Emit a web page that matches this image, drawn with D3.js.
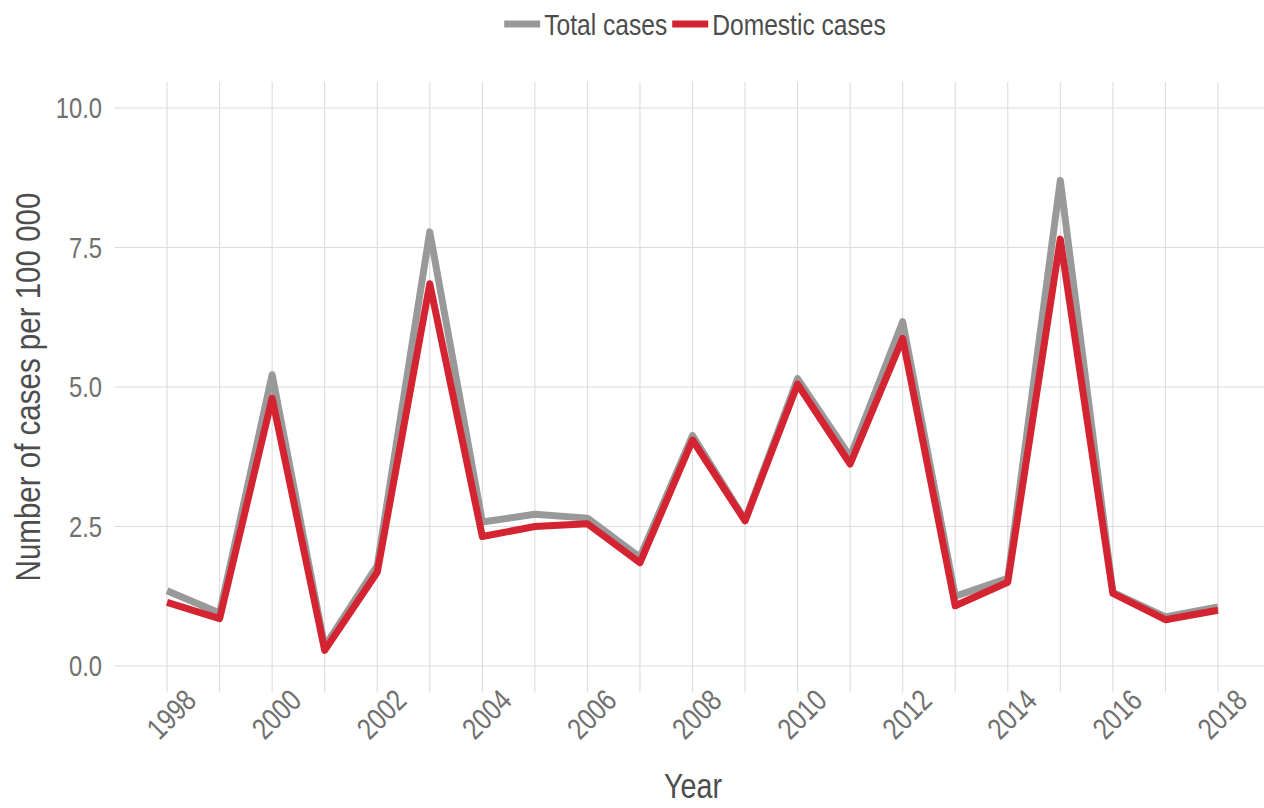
<!DOCTYPE html>
<html>
<head>
<meta charset="utf-8">
<script src="https://cdn.jsdelivr.net/npm/d3@7"></script>
<style>
  body { margin: 0; background: #fff; }
  svg text { font-family: "Liberation Sans", Arial, sans-serif; }
</style>
</head>
<body>
<div id="chart-container"></div>
<script>
// Data
const years = d3.range(1998, 2019);
const totalCases = [1.35, 0.95, 5.22, 0.35, 1.8, 7.78, 2.58, 2.72, 2.65, 1.95, 4.13, 2.62, 5.15, 3.75, 6.17, 1.25, 1.57, 8.7, 1.32, 0.88, 1.06];
const domesticCases = [1.14, 0.85, 4.8, 0.28, 1.68, 6.85, 2.32, 2.5, 2.55, 1.85, 4.05, 2.6, 5.05, 3.62, 5.87, 1.08, 1.5, 7.65, 1.3, 0.83, 1.0];
const yTicks = [0, 2.5, 5, 7.5, 10];
const xTicks = [1998, 2000, 2002, 2004, 2006, 2008, 2010, 2012, 2014, 2016, 2018];

const series = [
  { name: "Total cases", color: "#999999", values: totalCases },
  { name: "Domestic cases", color: "#d42331", values: domesticCases }
];

const width = 1264, height = 808;
// no narrow font installed, so squeeze Liberation Sans horizontally
const narrow = "scale(0.82,1)";

const xScale = d3.scaleLinear().domain([1997, 2019]).range([114.5, 1270.5]);
const yScale = d3.scaleLinear().domain([0, 10]).range([666, 108]);

const svg = d3.select("#chart-container")
  .append("svg")
  .attr("width", width)
  .attr("height", height);

const panelTop = yScale(10.47), panelBottom = yScale(-0.47);

// vertical gridlines, every year
svg.append("g")
  .selectAll("line")
  .data(years)
  .join("line")
  .attr("x1", d => xScale(d))
  .attr("x2", d => xScale(d))
  .attr("y1", panelTop)
  .attr("y2", panelBottom)
  .attr("stroke", "#dcdcdc")
  .attr("stroke-width", 1.1);

// horizontal gridlines
svg.append("g")
  .selectAll("line")
  .data(yTicks)
  .join("line")
  .attr("x1", xScale(1997))
  .attr("x2", xScale(2019))
  .attr("y1", d => yScale(d))
  .attr("y2", d => yScale(d))
  .attr("stroke", "#dcdcdc")
  .attr("stroke-width", 1.1);

// y tick labels
svg.append("g")
  .selectAll("text")
  .data(yTicks)
  .join("text")
  .attr("transform", d => `translate(102,${yScale(d)}) ${narrow}`)
  .attr("text-anchor", "end")
  .attr("dy", "0.36em")
  .style("font-size", "29px")
  .attr("fill", "#707070")
  .text(d3.format(".1f"));

// x tick labels, rotated
svg.append("g")
  .selectAll("text")
  .data(xTicks)
  .join("text")
  .attr("transform", d => `translate(${xScale(d) + 31},${panelBottom + 10}) rotate(-45) ${narrow}`)
  .attr("text-anchor", "end")
  .style("font-size", "30px")
  .attr("fill", "#707070")
  .text(d => d);

// line paths
const line = d3.line()
  .x((d, i) => xScale(years[i]))
  .y(d => yScale(d));

svg.append("g")
  .selectAll("path")
  .data(series)
  .join("path")
  .attr("fill", "none")
  .attr("stroke", d => d.color)
  .attr("stroke-width", 7)
  .attr("stroke-linejoin", "round")
  .attr("d", d => line(d.values));

// axis titles
svg.append("text")
  .attr("transform", `translate(40,${(panelTop + panelBottom) / 2}) rotate(-90) ${narrow}`)
  .attr("text-anchor", "middle")
  .style("font-size", "36px")
  .attr("fill", "#4d4d4d")
  .text("Number of cases per 100 000");

svg.append("text")
  .attr("transform", `translate(693,798) ${narrow}`)
  .attr("text-anchor", "middle")
  .style("font-size", "35px")
  .attr("fill", "#4d4d4d")
  .text("Year");

// legend, laid out from measured text widths and centred
const legend = svg.append("g");
let cursor = 0;
series.forEach(s => {
  legend.append("line")
    .attr("x1", cursor).attr("x2", cursor + 36)
    .attr("y1", 24).attr("y2", 24)
    .attr("stroke", s.color)
    .attr("stroke-width", 7);
  const t = legend.append("text")
    .attr("transform", `translate(${cursor + 40},35) ${narrow}`)
    .style("font-size", "30px")
    .attr("fill", "#4d4d4d")
    .text(s.name);
  cursor += 40 + t.node().getComputedTextLength() * 0.82 + 5;
});
legend.attr("transform", `translate(${695 - (cursor - 5) / 2},0)`);
</script>
</body>
</html>
